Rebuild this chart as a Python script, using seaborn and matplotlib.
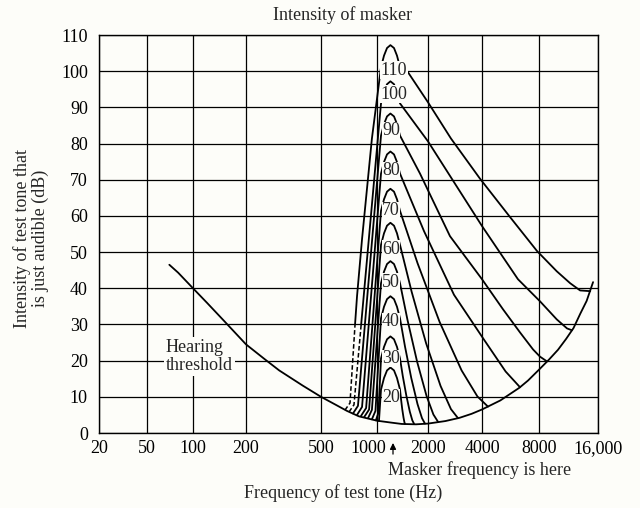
import numpy as np
import pandas as pd
import matplotlib
matplotlib.use('Agg')
import matplotlib.pyplot as plt
from matplotlib.transforms import ScaledTranslation
import seaborn as sns

# frequency ticks of the printed axis (the book's scale is only roughly logarithmic)
tick_hz = [20, 50, 100, 200, 500, 1000, 2000, 4000, 8000, 16000]
tick_labels = ['20', '50', '100', '200', '500', '1000', '2000', '4000', '8000', '16,000']
scale_pos = [0, 48, 94, 147, 222, 278, 329, 383, 440, 499]   # spacing of those ticks on the page
db_ticks = list(range(0, 111, 10))

# hearing threshold (Hz, dB)
thr_f = [70, 80, 100, 120, 150, 200, 250, 300, 400, 500, 600, 690, 800, 1000, 1200, 1400, 1700,
         2000, 2500, 3000, 3500, 4000, 5000, 6300, 7000, 8000, 9000, 10000, 11000, 12000, 13000,
         14000, 15100]
thr_db = [46.5, 44.3, 40, 36, 31, 24.5, 20.5, 17.3, 13.1, 10, 7.8, 6.1, 4.6, 3.4, 2.9, 2.5, 2.4,
          2.6, 3.3, 4.2, 5.3, 6.5, 9, 12.5, 14.5, 17.5, 20.3, 23, 26, 29, 33, 36.5, 41.7]

# masked thresholds, masker at ~1200 Hz, one list per masker level
m110_f = [762, 781, 831, 939, 1056, 1100, 1146, 1200, 1260, 1312, 1367, 1524, 2000, 2685, 3897, 5622, 7808, 9855, 11535, 12970, 14600]
m110_db = [30, 37.8, 53.6, 81.4, 101.1, 104.3, 106.4, 107.2, 106.4, 104.3, 101.1, 99.7, 91.4, 81.4, 70.3, 59.7, 50.3, 44.7, 41.4, 39.4, 39.2]
m110_dash_f = [672, 716, 762]
m110_dash_db = [6.3, 8.3, 30]

m100_f = [822, 1056, 1100, 1146, 1200, 1260, 1312, 1367, 2000, 2828, 4000, 6194, 8094, 9855, 11124, 11770]
m100_db = [30, 91.1, 94.3, 96.4, 97.2, 96.4, 94.3, 91.1, 80.6, 68.9, 57.2, 42.5, 36.4, 31.4, 28.9, 28.4]
m100_dash_f = [707, 752, 822]
m100_dash_db = [5.8, 7.8, 30]

m90_f = [743, 790, 1056, 1100, 1146, 1200, 1260, 1312, 1367, 1794, 2652, 4000, 5162, 6350, 7439, 8094, 8780]
m90_db = [5.4, 7.5, 82.2, 85.4, 87.5, 88.3, 87.5, 85.4, 82.2, 71.7, 54.4, 42.5, 34.2, 27.8, 23.1, 21.1, 19.8]

m80_f = [781, 831, 1056, 1100, 1146, 1200, 1260, 1312, 1367, 1894, 2792, 4098, 5330, 6350]
m80_db = [5.0, 7.2, 71.7, 74.9, 77.0, 77.8, 77.0, 74.9, 71.7, 55.8, 38.2, 25.8, 17.0, 12.65]

m70_f = [820, 874, 1056, 1100, 1146, 1200, 1260, 1312, 1367, 1736, 2321, 3078, 3771, 4300]
m70_db = [4.7, 6.9, 61.4, 64.6, 66.7, 67.5, 66.7, 64.6, 61.4, 46.9, 30.7, 17.3, 10.1, 7.3]

m60_f = [853, 907, 1056, 1100, 1146, 1200, 1260, 1312, 1367, 1600, 1949, 2350, 2685, 2940]
m60_db = [4.4, 6.5, 52.0, 55.2, 57.3, 58.1, 57.3, 55.2, 52.0, 39.1, 24.8, 13.0, 6.6, 4.1]

m50_f = [895, 939, 1056, 1100, 1146, 1200, 1260, 1312, 1367, 1516, 1725, 1962, 2144, 2274]
m50_db = [4.1, 6.4, 41.4, 44.6, 46.7, 47.5, 46.7, 44.6, 41.4, 31.1, 19.7, 10.2, 5.1, 3.1]

m40_f = [939, 981, 1056, 1100, 1146, 1200, 1260, 1312, 1367, 1463, 1593, 1734, 1843, 1919]
m40_db = [3.8, 6.1, 31.7, 34.9, 37.0, 37.8, 37.0, 34.9, 31.7, 23.9, 15.2, 8.0, 4.1, 2.6]

m30_f = [986, 1020, 1056, 1100, 1146, 1200, 1260, 1312, 1367, 1420, 1489, 1562, 1616, 1654]
m30_db = [3.5, 5.6, 20.6, 23.8, 25.9, 26.7, 25.9, 23.8, 20.6, 15.7, 10.4, 5.9, 3.5, 2.55]

m20_f = [1027, 1056, 1100, 1146, 1200, 1260, 1312, 1367, 1386, 1409, 1434, 1451, 1463]
m20_db = [3.3, 12.0, 15.2, 17.3, 18.1, 17.3, 15.2, 12.0, 9.4, 6.6, 4.25, 3.0, 2.5]

levels = [20, 30, 40, 50, 60, 70, 80, 90, 100, 110]
label_db = [9.7, 20.6, 30.8, 41.7, 50.8, 61.4, 72.5, 83.6, 93.6, 100.3]

curves = {20: (m20_f, m20_db), 30: (m30_f, m30_db), 40: (m40_f, m40_db),
          50: (m50_f, m50_db), 60: (m60_f, m60_db), 70: (m70_f, m70_db),
          80: (m80_f, m80_db), 90: (m90_f, m90_db), 100: (m100_f, m100_db),
          110: (m110_f, m110_db)}
solid = pd.concat([pd.DataFrame({'freq': f, 'db': d, 'level': lv})
                   for lv, (f, d) in curves.items()], ignore_index=True)
dashed = pd.concat([pd.DataFrame({'freq': m110_dash_f, 'db': m110_dash_db, 'level': 110}),
                    pd.DataFrame({'freq': m100_dash_f, 'db': m100_dash_db, 'level': 100})],
                   ignore_index=True)
threshold = pd.DataFrame({'freq': thr_f, 'db': thr_db})

sns.set_theme(style='white')
plt.rcParams['font.family'] = ['Liberation Serif', 'DejaVu Serif']
bg = '#fdfdf9'
fs = 13

log_ticks = np.log10(tick_hz)


def fwd(x):
    with np.errstate(divide='ignore', invalid='ignore'):
        return np.interp(np.log10(np.clip(x, 1e-6, None)), log_ticks, scale_pos)


def inv(p):
    return 10 ** np.interp(p, scale_pos, log_ticks)


fig = plt.figure(figsize=(6.4, 5.08), dpi=100, facecolor=bg)
ax = fig.add_axes([99 / 640, 1 - 433 / 508, 499 / 640, 398 / 508], facecolor=bg)
ax.set_xscale('function', functions=(fwd, inv))

sns.lineplot(data=threshold, x='freq', y='db', color='black', lw=1.3, sort=False, ax=ax)
sns.lineplot(data=solid, x='freq', y='db', units='level', estimator=None, color='black',
             lw=1.3, sort=False, ax=ax)
sns.lineplot(data=dashed, x='freq', y='db', units='level', estimator=None, color='black',
             lw=1.1, sort=False, dashes=False, ax=ax)
for ln in ax.get_lines()[-2:]:
    ln.set_linestyle((0, (3, 1.6)))

ax.set_xlim(20, 16000)
ax.set_ylim(0, 110)
ax.set_xticks(tick_hz)
ax.set_xticklabels(tick_labels)
ax.xaxis.set_minor_locator(matplotlib.ticker.NullLocator())
ax.set_yticks(db_ticks)
ax.grid(True, color='black', lw=0.9)
ax.set_axisbelow(True)
for s in ax.spines.values():
    s.set_color('black')
    s.set_linewidth(1.0)
ax.tick_params(length=0, labelsize=fs, colors='black')
ax.tick_params(axis='x', pad=5)
ax.tick_params(axis='y', pad=8)
ax.set_xlabel('')
ax.set_ylabel('')

# the "1000" label is nudged left to make room for the arrow
lab1000 = ax.get_xticklabels()[tick_labels.index('1000')]
lab1000.set_transform(lab1000.get_transform() + ScaledTranslation(-0.09, 0, fig.dpi_scale_trans))

# level labels sit inside each curve, just under its peak
for lv, yd in zip(levels, label_db):
    x_lab = 1260 if lv >= 100 else 1210
    ax.text(x_lab, yd, str(lv), ha='center', va='center', fontsize=fs, zorder=5,
            bbox=dict(facecolor=bg, edgecolor='none', pad=0.2))

ax.text(66.5, 21.1, 'Hearing\nthreshold', ha='left', va='center', fontsize=fs,
        linespacing=1.1, zorder=5, bbox=dict(facecolor=bg, edgecolor='none', pad=1.5))

ax.annotate('', xy=(1243, -0.018), xytext=(1243, -0.06), xycoords=('data', 'axes fraction'),
            textcoords=('data', 'axes fraction'), annotation_clip=False,
            arrowprops=dict(arrowstyle='-|>', color='black', lw=0.9, mutation_scale=9))
ax.text(1161, -0.094, 'Masker frequency is here', transform=ax.get_xaxis_transform(),
        ha='left', va='center', fontsize=fs)

fig.text(343 / 640, 1 - 15 / 508, 'Intensity of masker', ha='center', va='center', fontsize=fs)
fig.text(343 / 640, 1 - 493 / 508, 'Frequency of test tone (Hz)', ha='center', va='center', fontsize=fs)
fig.text(31 / 640, 1 - 238 / 508, 'Intensity of test tone that\nis just audible (dB)', rotation=90,
         ha='center', va='center', fontsize=fs, linespacing=1.1, multialignment='center')

fig.savefig('out.png', dpi=100, facecolor=bg)
